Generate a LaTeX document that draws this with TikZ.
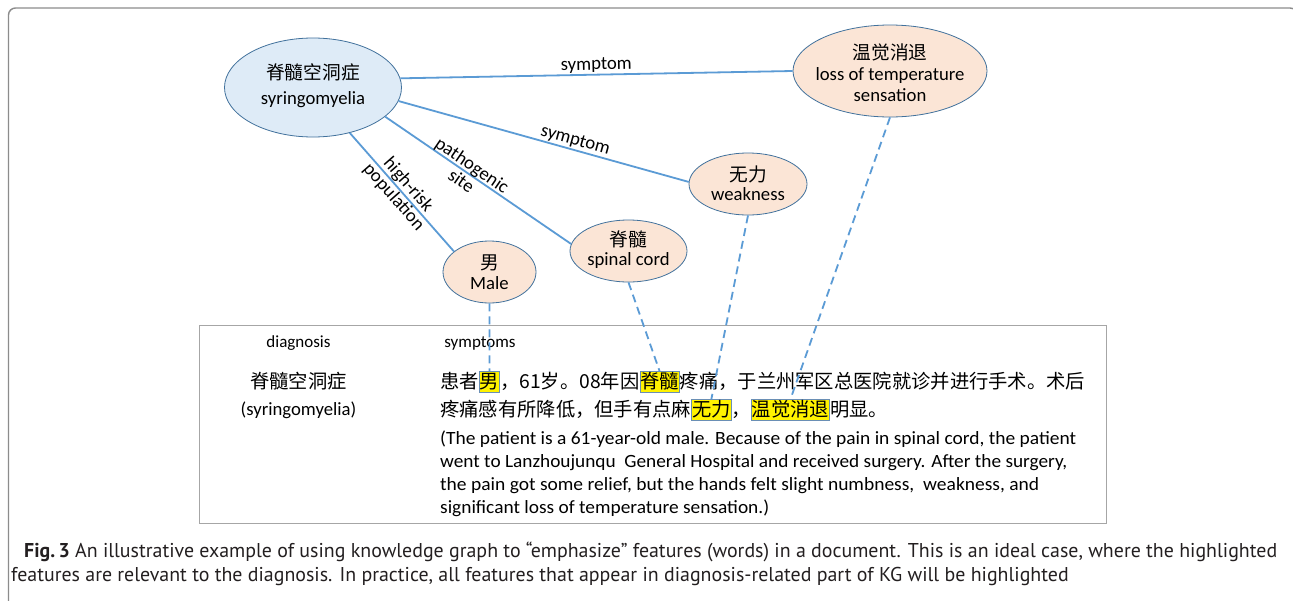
\documentclass[tikz,border=0pt]{standalone}
\usepackage{fontspec}
\usepackage{graphicx}
\setmainfont{Carlito}
\newfontfamily\cjk{Noto Sans CJK SC}
\newfontfamily\capfont{PT Sans}
\usetikzlibrary{shapes.geometric}
\definecolor{edgeblue}{HTML}{5B9BD5}
\definecolor{nodeline}{HTML}{41719C}
\definecolor{bluefill}{HTML}{DEEBF7}
\definecolor{peach}{HTML}{FBE5D6}
\definecolor{boxgray}{HTML}{A6A6A6}
\definecolor{framegray}{HTML}{8C8C8C}
\definecolor{hlborder}{HTML}{6A8FB5}
\definecolor{captext}{HTML}{231F20}
\newcommand\fs[2]{\fontsize{#1}{#2}\selectfont}
\newlength\capw
\begin{document}
\settowidth\capw{\capfont\fs{20}{24}\textbf{Fig.\,3} An illustrative example of using knowledge graph to “emphasize” features (words) in a document. This is an ideal case, where the highlighted}
\pgfmathsetmacro\capscale{1253/\capw}
\begin{tikzpicture}[x=1pt,y=-1pt,
  blob/.style={ellipse, draw=nodeline, line width=0.8pt, inner sep=0pt},
  bluenode/.style={blob, fill=bluefill},
  peachnode/.style={blob, fill=peach},
  blobtext/.style={align=center, inner sep=0pt, font=\fs{18.7}{20}},
  rel/.style={draw=edgeblue, line width=1.8pt},
  link/.style={draw=edgeblue, line width=1.8pt, dash pattern=on 8pt off 5pt},
  rellabel/.style={font=\fs{18.7}{19}, align=center, sloped, inner sep=1pt},
  seg/.style={inner sep=0pt, font=\cjk\fs{19.3}{24}, anchor=base west},
  hl/.style={seg, fill=yellow, draw=hlborder, line width=0.7pt, inner xsep=0.4pt, inner ysep=1pt, text height=15.5pt, text depth=3.5pt},
  plain/.style={inner sep=0pt, anchor=base west, font=\fs{18.7}{22}},
  head/.style={inner sep=0pt, anchor=base, font=\fs{17}{20}},
  captionline/.style={inner sep=0pt, anchor=base west, text=captext}
]
\useasboundingbox (0,0) rectangle (1293,600);
\clip (0,0) rectangle (1293,600);
\fill[white] (0,0) rectangle (1293,600);
\draw[framegray, line width=1.4pt, rounded corners=7pt] (8.5,640) -- (8.5,8) -- (1297,8) -- (1297,640);

% ellipses
\node[bluenode, minimum width=177pt, minimum height=99pt] (syr) at (313,87.5) {};
\node[peachnode, minimum width=194pt, minimum height=92pt] (loss) at (890,71) {};
\node[peachnode, minimum width=118pt, minimum height=62pt] (weak) at (748,184) {};
\node[peachnode, minimum width=117pt, minimum height=62pt] (cord) at (628.5,251) {};
\node[peachnode, minimum width=93pt, minimum height=62pt] (male) at (489.5,272) {};

\node[blobtext, font=\fs{18.7}{25}] (syrt) at (313,86) {{\cjk 脊髓空洞症}\\syringomyelia};
\node[blobtext, font=\fs{18.7}{21}] (losst) at (890,73) {{\cjk 温觉消退}\\loss of temperature\\sensation};
\node[blobtext, font=\fs{18.7}{19.5}] (weakt) at (748,183) {{\cjk 无力}\\weakness};
\node[blobtext, font=\fs{18.7}{19}] (cordt) at (628.5,250) {{\cjk 脊髓}\\spinal cord};
\node[blobtext, font=\fs{18.7}{19.5}] (malet) at (489.5,272) {{\cjk 男}\\Male};

% relations
\draw[rel] (syr.6) -- node[rellabel, above, pos=0.5] {symptom} (loss.180);
\draw[rel] (syr.-9) -- node[rellabel, above, pos=0.6] {symptom} (weak.178);
\draw[rel] (syr.-22.6) -- node[rellabel, pos=0.44] {pathogenic\\site} (cord.173);
\draw[rel] (syr.-51) -- node[rellabel, pos=0.49] {high-risk\\population} (male.150);

% document box
\node[draw=boxgray, line width=1.2pt, inner sep=0pt, minimum width=907pt, minimum height=198pt, anchor=north west] (doc) at (198.5,324.5) {};
\node[head] (diag) at (298.5,347) {diagnosis};
\node[head] (symp) at (480,347) {symptoms};
\node[seg, anchor=base] (dzh) at (298.5,388) {脊髓空洞症};
\node[plain, anchor=base] (den) at (298.5,415) {(syringomyelia)};

% Chinese text, line 1
\node[seg] (a1) at (440,388) {患者};
\node[hl] (hnan) at (a1.base east) {男};
\node[seg] (a2) at (hnan.base east) {，61岁。08年因};
\node[hl] (hjs) at (a2.base east) {脊髓};
\node[seg] (a3) at (hjs.base east) {疼痛，于兰州军区总医院就诊并进行手术。术后};
% line 2
\node[seg] (b1) at (440,416) {疼痛感有所降低，但手有点麻};
\node[hl] (hwl) at (b1.base east) {无力};
\node[seg] (b2) at (hwl.base east) {，};
\node[hl] (hwj) at (b2.base east) {温觉消退};
\node[seg] (b3) at (hwj.base east) {明显。};

% English translation
\node[plain] (e1) at (440,444) {\resizebox{636pt}{\height}{(The patient is a 61-year-old male. Because of the pain in spinal cord, the patient}};
\node[plain] (e2) at (440,467) {\resizebox{627pt}{\height}{went to Lanzhoujunqu\ \ General Hospital and received surgery. After the surgery,}};
\node[plain] (e3) at (440,490) {\resizebox{599pt}{\height}{the pain got some relief, but the hands felt slight numbness,\ \ weakness, and}};
\node[plain] (e4) at (440,513) {\resizebox{329pt}{\height}{significant loss of temperature sensation.)}};

% dashed links
\draw[link] (male.south) -- (hnan.north);
\draw[link] (cord.south) -- (hjs.north);
\draw[link] (weak.south) -- (hwl.north);
\draw[link] (loss.south) -- (hwj.north);

% caption
\node[captionline] (cap1) at (24,557) {\scalebox{\capscale}[1]{\capfont\fs{20}{24}\textbf{Fig.\,3} An illustrative example of using knowledge graph to “emphasize” features (words) in a document. This is an ideal case, where the highlighted}};
\node[captionline] (cap2) at (11,581) {\scalebox{\capscale}[1]{\capfont\fs{20}{24}features are relevant to the diagnosis. In practice, all features that appear in diagnosis-related part of KG will be highlighted}};
\end{tikzpicture}
\end{document}
